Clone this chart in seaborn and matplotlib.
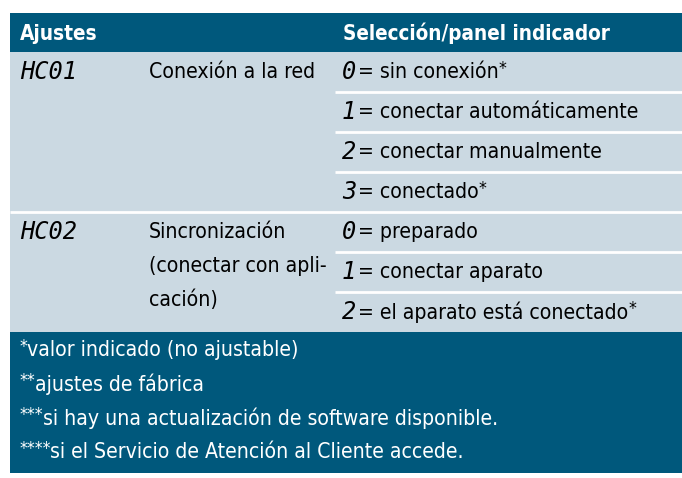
import matplotlib
matplotlib.use("Agg")
import re
import matplotlib.pyplot as plt
from matplotlib.patches import Rectangle
import seaborn as sns

# ---- data ----
header = ["Ajustes", "Selección/panel indicador"]
codes = ["HC01", "HC02"]
settings = ["Conexión a la red", "Sincronización\n(conectar con apli-\ncación)"]
option_digits = [["0", "1", "2", "3"], ["0", "1", "2"]]
option_texts = [
    ["sin conexión*", "conectar automáticamente", "conectar manualmente", "conectado*"],
    ["preparado", "conectar aparato", "el aparato está conectado*"],
]
footnotes = [
    "*valor indicado (no ajustable)",
    "**ajustes de fábrica",
    "***si hay una actualización de software disponible.",
    "****si el Servicio de Atención al Cliente accede.",
]

# ---- style ----
sns.set_theme(style="white")
plt.rcParams['font.family'] = ['DejaVu Sans']
plt.rcParams['font.stretch'] = 'condensed'
DARK = "#00587c"
LIGHT = "#cbd9e2"
W, H = 682, 478

fig = plt.figure(figsize=(W / 100, H / 100), dpi=100)
ax = fig.add_axes([0, 0, 1, 1])
ax.set_xlim(0, W)
ax.set_ylim(H, 0)
ax.axis("off")
renderer = fig.canvas.get_renderer()

left, right = 10, 682
top, head_bot = 13, 52
row_h = 40
n_rows = sum(len(o) for o in option_digits)
body_bot = head_bot + n_rows * row_h
foot_row = 34
bottom = body_bot + len(footnotes) * foot_row + 5

ax.add_patch(Rectangle((left, top), right - left, head_bot - top, color=DARK, lw=0))
ax.add_patch(Rectangle((left, head_bot), right - left, body_bot - head_bot, color=LIGHT, lw=0))
ax.add_patch(Rectangle((left, body_bot), right - left, bottom - body_bot, color=DARK, lw=0))

col_x = [20, 149, 343]
fs_head = 14.9
fs_body = 15.2
fs_star = 12.5
fs_dig = 17


def rich_text(x, y, s, color, fs):
    """Draw text with raised asterisks, advancing along the baseline."""
    for part in re.findall(r"\*+|[^*]+", s):
        star = part.startswith("*")
        t = ax.text(x, y - (3 if star else 0), part, fontsize=fs_star if star else fs,
                    color=color, va="center", ha="left")
        bb = t.get_window_extent(renderer=renderer)
        x += bb.width * (W / fig.bbox.width) - (1 if star else 0)


ax.text(col_x[0], (top + head_bot) / 2 + 1, header[0], color="white", fontsize=fs_head,
        fontweight="bold", va="center", ha="left")
ax.text(col_x[2], (top + head_bot) / 2 + 1, header[1], color="white", fontsize=fs_head,
        fontweight="bold", va="center", ha="left")

y = head_bot
for gi, (code, setting, digs, texts) in enumerate(zip(codes, settings, option_digits, option_texts)):
    if gi > 0:
        ax.plot([left, right], [y, y], color="white", lw=2, solid_capstyle="butt")
    ax.text(col_x[0], y + row_h / 2, code, fontsize=fs_dig, family="DejaVu Sans Mono",
            style="italic", va="center", ha="left", color="black")
    ax.text(col_x[1], y + 10, setting, fontsize=fs_body, va="top", ha="left",
            color="black", linespacing=1.85)
    for ri, (d, t) in enumerate(zip(digs, texts)):
        ry = y + ri * row_h
        if ri > 0:
            ax.plot([335, right], [ry, ry], color="white", lw=2, solid_capstyle="butt")
        ax.text(349, ry + row_h / 2, d, fontsize=fs_dig, family="DejaVu Sans Mono",
                style="italic", va="center", ha="center", color="black")
        rich_text(358, ry + row_h / 2, "= " + t, "black", fs_body)
    y += len(digs) * row_h

for i, fn in enumerate(footnotes):
    rich_text(col_x[0], body_bot + foot_row * (i + 0.5) + 1, fn, "white", fs_body)

fig.savefig("out.png", dpi=100, facecolor="white")
